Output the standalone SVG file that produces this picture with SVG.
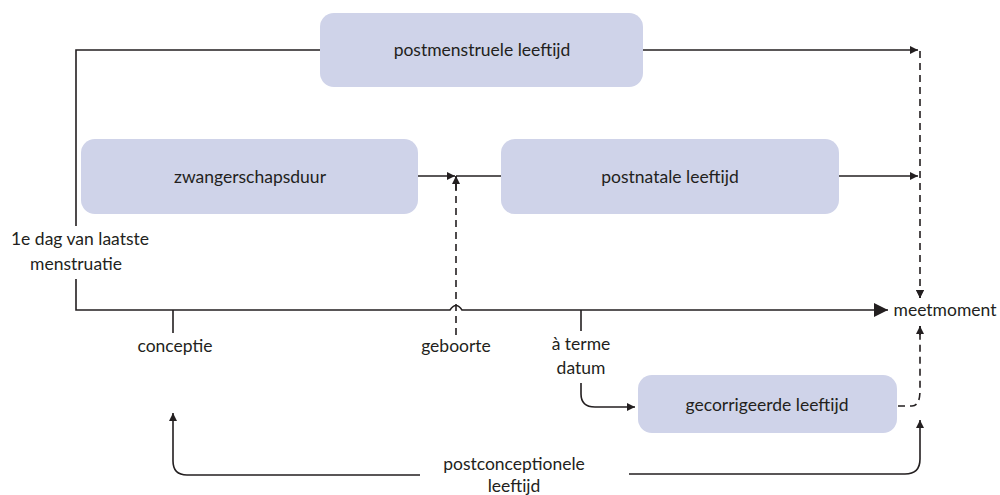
<svg xmlns="http://www.w3.org/2000/svg" width="1000" height="495" viewBox="0 0 1000 495">
<defs>
<style>
.box{fill:#cfd3e9}
.t{font-family:Lato,"Open Sans",sans-serif;font-size:17.5px;fill:#231f20;text-anchor:middle}
.ln{fill:none;stroke:#231f20;stroke-width:1.6}
.dash{fill:none;stroke:#231f20;stroke-width:1.6;stroke-dasharray:7,5}
</style>
<marker id="ah" viewBox="0 0 10 10" refX="10" refY="5" markerWidth="8" markerHeight="8" markerUnits="userSpaceOnUse" orient="auto">
<path d="M0,0 L10,5 L0,10 z" fill="#231f20"/>
</marker>
<marker id="ahb" viewBox="0 0 10 10" refX="10" refY="5" markerWidth="14" markerHeight="14" markerUnits="userSpaceOnUse" orient="auto">
<path d="M0,0 L10,5 L0,10 z" fill="#231f20"/>
</marker>
</defs>
<g id="connectors">
<path class="ln" d="M320,50 H76 V226"/>
<path class="ln" d="M76,279 V310 H450 Q456,301 462,310 H888" marker-end="url(#ahb)"/>
<path class="ln" d="M643,50 H918" marker-end="url(#ah)"/>
<path class="ln" d="M418,176 H455" marker-end="url(#ah)"/>
<path class="ln" d="M456,176 H501"/>
<path class="ln" d="M839,176 H918" marker-end="url(#ah)"/>
<path class="dash" d="M920,51 V298" marker-end="url(#ah)"/>
<path class="ln" d="M920,290 V298" marker-end="url(#ah)"/>
<path class="dash" d="M456,335 V176"/>
<path class="ln" d="M456,190 V176" marker-end="url(#ah)"/>
<path class="ln" d="M173,310 V333"/>
<path class="ln" d="M581,310 V331"/>
<path class="ln" d="M581,383 V394 Q581,407 595,407 H635" marker-end="url(#ah)"/>
<path class="dash" d="M898,406 H912 Q920,406 920,390 V326"/>
<path class="ln" d="M920,335 V326" marker-end="url(#ah)"/>
<path class="ln" d="M420,475 H187 Q173,475 173,461 V413" marker-end="url(#ah)"/>
<path class="ln" d="M629,474 H905 Q920,474 920,459 V420" marker-end="url(#ah)"/>
</g>
<g id="node-postmenstruele">
<rect class="box" x="320" y="13" width="323" height="74" rx="14"/>
<text class="t" x="482" y="56">postmenstruele leeftijd</text>
</g>
<g id="node-zwangerschapsduur">
<rect class="box" x="81" y="139" width="337" height="75" rx="14"/>
<text class="t" x="250" y="183">zwangerschapsduur</text>
</g>
<g id="node-postnatale">
<rect class="box" x="501" y="139" width="338" height="75" rx="14"/>
<text class="t" x="670" y="183">postnatale leeftijd</text>
</g>
<g id="node-gecorrigeerde">
<rect class="box" x="638" y="375" width="259" height="58" rx="14"/>
<text class="t" x="767" y="411">gecorrigeerde leeftijd</text>
</g>
<g id="labels">
<text class="t" x="80" y="245">1e dag van laatste</text>
<text class="t" x="76" y="270">menstruatie</text>
<text class="t" x="175" y="352">conceptie</text>
<text class="t" x="456" y="352">geboorte</text>
<text class="t" x="581" y="350">à terme</text>
<text class="t" x="581" y="374">datum</text>
<text class="t" x="945" y="316">meetmoment</text>
<text class="t" x="514" y="470">postconceptionele</text>
<text class="t" x="514" y="492">leeftijd</text>
</g>
</svg>
